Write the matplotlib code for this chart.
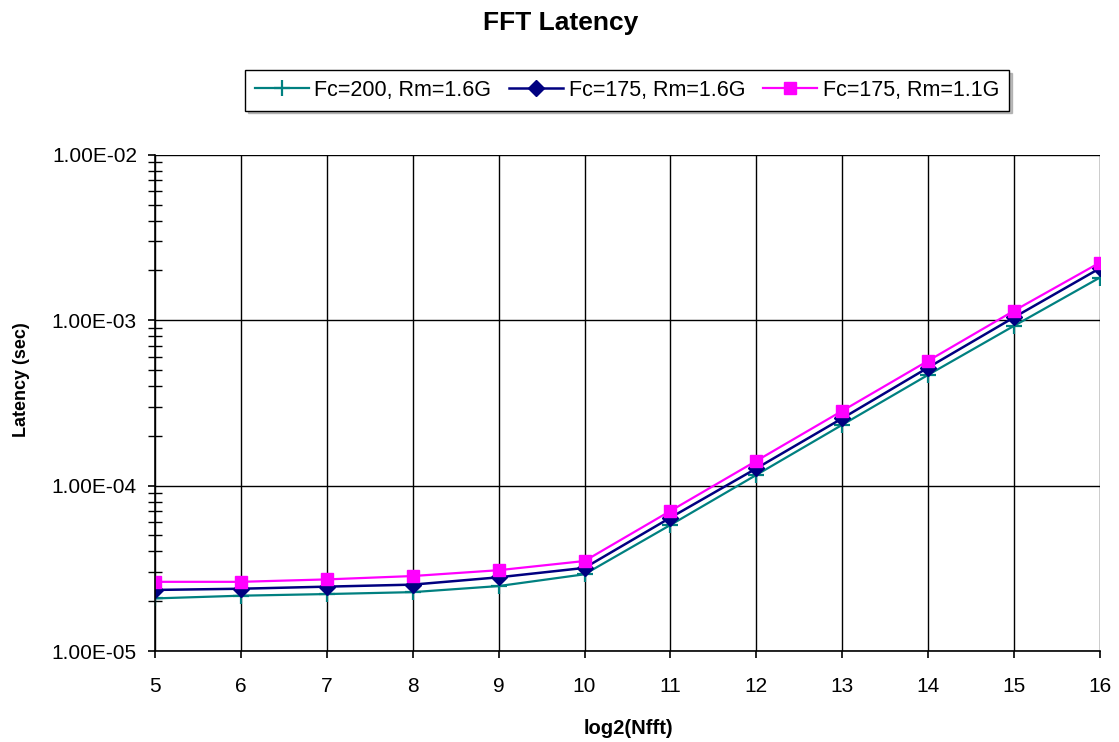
import matplotlib
matplotlib.use("Agg")
import matplotlib.pyplot as plt
from matplotlib.ticker import FuncFormatter, LogLocator, NullFormatter

plt.rcParams['font.family'] = ['Liberation Sans', 'DejaVu Sans']

log2_nfft = [5, 6, 7, 8, 9, 10, 11, 12, 13, 14, 15, 16]
fc200_rm16 = [2.08e-5, 2.16e-5, 2.21e-5, 2.27e-5, 2.47e-5, 2.91e-5,
              5.78e-5, 1.16e-4, 2.33e-4, 4.67e-4, 9.24e-4, 1.81e-3]
fc175_rm16 = [2.34e-5, 2.38e-5, 2.45e-5, 2.52e-5, 2.79e-5, 3.18e-5,
              6.40e-5, 1.27e-4, 2.55e-4, 5.17e-4, 1.04e-3, 2.06e-3]
fc175_rm11 = [2.62e-5, 2.62e-5, 2.71e-5, 2.84e-5, 3.08e-5, 3.50e-5,
              7.03e-5, 1.41e-4, 2.83e-4, 5.68e-4, 1.14e-3, 2.23e-3]
labels = ["Fc=200, Rm=1.6G", "Fc=175, Rm=1.6G", "Fc=175, Rm=1.1G"]

fig = plt.figure(figsize=(11.19, 7.42), dpi=100)
ax = fig.add_axes([0.1385, 0.1226, 0.983 - 0.1385, 0.7915 - 0.1226])

h1, = ax.plot(log2_nfft, fc200_rm16, color='#008080', marker='+', markersize=11,
              markeredgewidth=1.6, linewidth=1.6, label=labels[0])
h2, = ax.plot(log2_nfft, fc175_rm16, color='#000080', marker='D', markersize=8,
              linewidth=1.8, label=labels[1])
h3, = ax.plot(log2_nfft, fc175_rm11, color='#FF00FF', marker='s', markersize=9,
              linewidth=1.6, label=labels[2])

ax.set_yscale('log')
ax.set_xlim(5, 16)
ax.set_ylim(1e-5, 1e-2)
ax.set_xticks(log2_nfft)
ax.yaxis.set_major_locator(LogLocator(base=10, numticks=10))
ax.yaxis.set_minor_locator(LogLocator(base=10, subs=range(2, 10), numticks=20))
ax.yaxis.set_minor_formatter(NullFormatter())
ax.yaxis.set_major_formatter(FuncFormatter(lambda v, p: f"{v:.2E}"))

ax.grid(True, which='major', color='black', linewidth=1.0)
ax.set_axisbelow(True)
for s in ['top', 'right']:
    ax.spines[s].set_visible(False)
for s in ['left', 'bottom']:
    ax.spines[s].set_linewidth(1.2)

ax.tick_params(axis='both', which='major', direction='out', length=5, width=1.2,
               labelsize=15)
ax.tick_params(axis='x', which='major', pad=14)
ax.tick_params(axis='y', which='major', pad=8)
ax.tick_params(axis='y', which='minor', direction='inout', length=10, width=1.0)

fig.text(0.5013, 0.969, "FFT Latency", ha='center', va='center',
         fontsize=19, fontweight='bold')
fig.text(0.562, 0.018, "log2(Nfft)", ha='center', va='center',
         fontsize=14.5, fontweight='bold')
fig.text(0.0195, 0.488, "Latency (sec)", ha='center', va='center', rotation=90,
         fontsize=13, fontweight='bold')

leg = fig.legend(handles=[h1, h2, h3], loc='center', ncol=3,
                 bbox_to_anchor=(627 / 1119, 1 - 90.5 / 742), fontsize=15.5,
                 frameon=True, fancybox=False,
                 shadow={'color': '#a0a0a0', 'alpha': 0.7},
                 edgecolor='black', handlelength=2.5, handletextpad=0.25,
                 columnspacing=0.85, borderpad=0.45)
leg.get_frame().set_linewidth(1.0)

fig.savefig("out.png", dpi=100)
